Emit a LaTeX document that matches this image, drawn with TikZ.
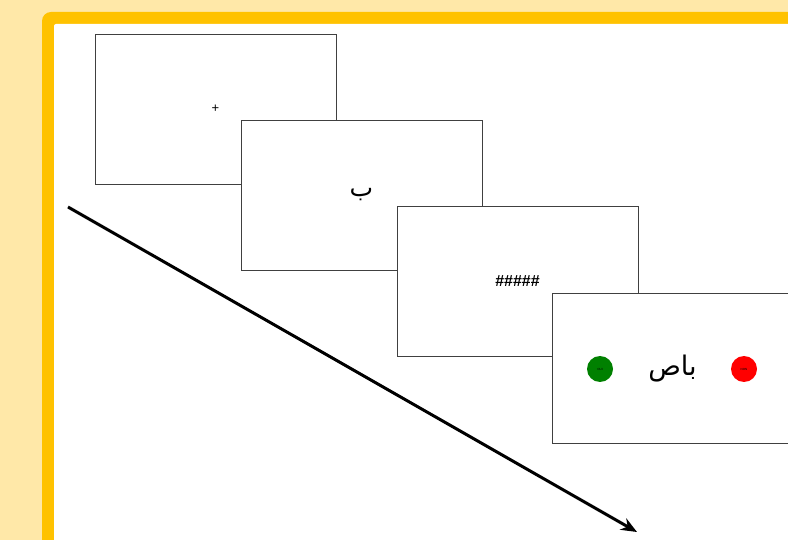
\documentclass[tikz,border=0pt]{standalone}
\usepackage{fontspec}
\setmainfont{Liberation Sans}
\newfontfamily\arabicfont[Script=Arabic]{DejaVu Sans}
\TeXXeTstate=1
\usepackage{tikz}
\usetikzlibrary{positioning,arrows.meta}
\definecolor{paper}{HTML}{FFE8A8}
\definecolor{frame}{HTML}{FFC200}
\definecolor{yes}{HTML}{008000}
\definecolor{no}{HTML}{FF0000}

\tikzset{
  screen/.style={draw=black!75,fill=white,line width=0.8pt,minimum width=241pt,minimum height=150pt,inner sep=0pt},
  answer/.style={circle,minimum size=26pt,inner sep=0pt,font=\fontsize{3}{3}\selectfont}
}

\begin{document}
\begin{tikzpicture}[x=1pt,y=-1pt]
\useasboundingbox (0,0) rectangle (788,540);
\clip (0,0) rectangle (788,540);
\fill[paper] (0,0) rectangle (788,540);
\fill[frame,rounded corners=9pt] (42,12) rectangle (810,570);
\fill[white,rounded corners=2pt] (54,24) rectangle (810,570);

	\node[screen] (S1) at (215.5,109) {\fontsize{13}{13}\selectfont +};
	\node[screen] (S2) at (361.5,195) {\arabicfont\fontsize{25}{25}\selectfont\beginR ب\endR};
	\node[screen] (S3) at (517.5,281.5) {\bfseries\fontsize{16}{16}\selectfont \#\#\#\#\#};
	\node[screen] (S4) at (672.5,368.5) {\arabicfont\fontsize{27}{27}\selectfont\beginR باص\endR};

	\node[answer,fill=yes] (Y) at (600,369) {OUI};
	\node[answer,fill=no] (N) at (744,369) {NON};

	\coordinate (T0) at (68,207);
	\coordinate (T1) at (637,532);
	\draw[-{Stealth[length=16pt,width=13pt]},line width=3pt] (T0) -- (T1);
\end{tikzpicture}
\end{document}
